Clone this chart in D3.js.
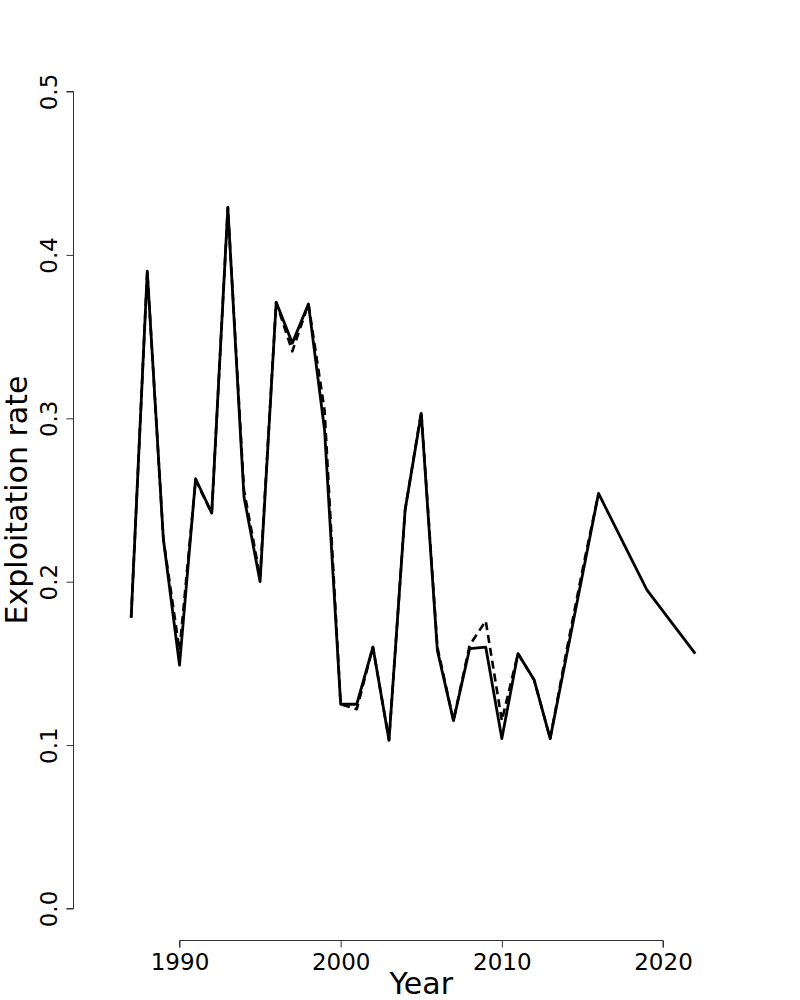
<!DOCTYPE html>
<html>
<head>
<meta charset="utf-8">
<script src="https://d3js.org/d3.v7.min.js"></script>
<style>
  body { margin: 0; background: #fff; }
  svg { display: block; font-family: "DejaVu Sans", sans-serif; }
</style>
</head>
<body>
<div id="chart"></div>
<script>
// solid series (annual to 2013, then every three years)
const solidYears = [1987, 1988, 1989, 1990, 1991, 1992, 1993, 1994, 1995, 1996,
  1997, 1998, 1999, 2000, 2001, 2002, 2003, 2004, 2005, 2006,
  2007, 2008, 2009, 2010, 2011, 2012, 2013, 2016, 2019, 2022];
const solidRate = [0.178, 0.390, 0.226, 0.149, 0.263, 0.242, 0.429, 0.252, 0.200, 0.371,
  0.346, 0.370, 0.293, 0.125, 0.125, 0.160, 0.103, 0.244, 0.303, 0.158,
  0.115, 0.159, 0.160, 0.104, 0.156, 0.140, 0.104, 0.254, 0.195, 0.156];

// dashed series (annual, 1987-2016)
const dashedYears = [1987, 1988, 1989, 1990, 1991, 1992, 1993, 1994, 1995, 1996,
  1997, 1998, 1999, 2000, 2001, 2002, 2003, 2004, 2005, 2006,
  2007, 2008, 2009, 2010, 2011, 2012, 2013, 2014, 2015, 2016];
const dashedRate = [0.178, 0.390, 0.226, 0.158, 0.262, 0.242, 0.429, 0.256, 0.203, 0.371,
  0.341, 0.370, 0.305, 0.125, 0.122, 0.160, 0.103, 0.244, 0.304, 0.160,
  0.115, 0.161, 0.176, 0.115, 0.156, 0.140, 0.104, 0.157, 0.207, 0.254];

const xTicks = [1990, 2000, 2010, 2020];
const yTicks = [0, 0.1, 0.2, 0.3, 0.4, 0.5];

const width = 800, height = 1000;
const font = "DejaVu Sans, sans-serif";

const svg = d3.select("#chart")
  .append("svg")
  .attr("width", width)
  .attr("height", height);

const x = d3.scaleLinear().domain([1990, 2020]).range([179.5, 663]);
const y = d3.scaleLinear().domain([0, 0.5]).range([908.5, 91.5]);

// y axis
const yAxis = svg.append("g")
  .attr("transform", "translate(73.5,0)")
  .call(d3.axisLeft(y).tickValues(yTicks).tickSize(7).tickPadding(0).tickFormat(d3.format(".1f")));
yAxis.attr("font-family", font).attr("font-size", 23);
yAxis.select(".domain").attr("d", `M-7,${y(0)}H0V${y(0.5)}H-7`);
yAxis.selectAll("line, path").attr("stroke", "#333");
yAxis.selectAll("text")
  .attr("x", null).attr("dy", null)
  .attr("fill", "#000")
  .attr("text-anchor", "middle")
  .attr("transform", "translate(-17,0) rotate(-90)")
  .attr("y", 0);

// x axis
const xAxis = svg.append("g")
  .attr("transform", "translate(0,940.5)")
  .call(d3.axisBottom(x).tickValues(xTicks).tickSize(7).tickPadding(0).tickFormat(d3.format("d")));
xAxis.attr("font-family", font).attr("font-size", 23);
xAxis.select(".domain").attr("d", `M${x(1990)},7V0H${x(2020)}V7`);
xAxis.selectAll("line, path").attr("stroke", "#333");
xAxis.selectAll("text")
  .attr("fill", "#000")
  .attr("dy", null)
  .attr("y", 29);

// axis titles
svg.append("text")
  .attr("x", x(2005))
  .attr("y", 994)
  .attr("text-anchor", "middle")
  .attr("font-size", 30)
  .text("Year");

svg.append("text")
  .attr("transform", `translate(27,${(y(0) + y(0.5)) / 2}) rotate(-90)`)
  .attr("text-anchor", "middle")
  .attr("font-size", 30)
  .text("Exploitation rate");

const line = d3.line()
  .x(d => x(d[0]))
  .y(d => y(d[1]));

svg.append("path")
  .datum(d3.zip(dashedYears, dashedRate))
  .attr("d", line)
  .attr("fill", "none")
  .attr("stroke", "#000")
  .attr("stroke-width", 2.6)
  .attr("stroke-dasharray", "8,5")
  .attr("stroke-linejoin", "round");

svg.append("path")
  .datum(d3.zip(solidYears, solidRate))
  .attr("d", line)
  .attr("fill", "none")
  .attr("stroke", "#000")
  .attr("stroke-width", 2.8)
  .attr("stroke-linejoin", "round");
</script>
</body>
</html>
